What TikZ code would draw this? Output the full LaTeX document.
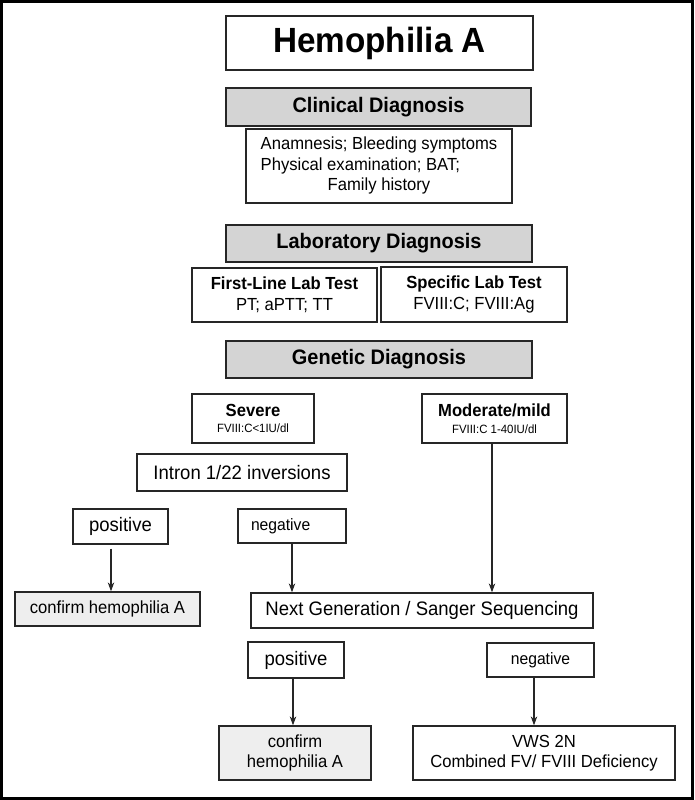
\documentclass[tikz,border=0pt]{standalone}
\usepackage{fontspec}
\setmainfont{Liberation Sans}[FakeStretch=0.95]
\usetikzlibrary{arrows.meta}

\definecolor{headgray}{RGB}{212,212,212}
\definecolor{confgray}{RGB}{238,238,238}

\begin{document}
\begin{tikzpicture}[x=1pt,y=-1pt,>={Stealth[length=9pt,width=6.5pt]},
  box/.style={draw=black!85,line width=1.3pt,fill=white,inner sep=1pt,align=center,font=\fontsize{17.5}{20.5}\selectfont},
  headbox/.style={box,fill=headgray,font=\fontsize{21}{24}\selectfont\bfseries},
  confbox/.style={box,fill=confgray},
  bigtext/.style={font=\fontsize{19.5}{22}\selectfont},
  smalltext/.style={font=\fontsize{16.5}{19}\selectfont},
  boxsize/.style 2 args={minimum width=#1,minimum height=#2},
  arrowline/.style={->,line width=1.2pt,draw=black!85}]

\useasboundingbox (0,0) rectangle (694,800);
\draw[line width=3pt] (1.5,1.5) rectangle (692.5,798.5);

% clinical part
\node[box,boxsize={307}{54},font=\fontsize{35}{40}\selectfont\bfseries] (title) at (379.5,43) {Hemophilia A};
\node[headbox,boxsize={305}{38}] (clin) at (378.5,107) {Clinical Diagnosis};
\node[box,boxsize={266}{74}] (clinfo) at (379,166) {\begin{tabular}{@{}l@{}}Anamnesis; Bleeding symptoms\\Physical examination; BAT;\\\multicolumn{1}{@{}c@{}}{Family history}\end{tabular}};

% laboratory part
\node[headbox,boxsize={306}{37}] (lab) at (379,243.5) {Laboratory Diagnosis};
\node[box,boxsize={185}{54}] (first) at (284.5,295) {\textbf{First-Line Lab Test}\\PT; aPTT; TT};
\node[box,boxsize={186}{55}] (spec) at (474,294.5) {\textbf{Specific Lab Test}\\FVIII:C; FVIII:Ag};

% genetic part
\node[headbox,boxsize={306}{37}] (gen) at (379,359.5) {Genetic Diagnosis};
\node[box,boxsize={122}{49}] (severe) at (253,418.5) {\textbf{Severe}\\[-4pt]{\fontsize{12}{14}\selectfont FVIII:C<1IU/dl}};
\node[box,boxsize={145}{49}] (moder) at (494.5,418.5) {\textbf{Moderate/mild}\\[-4pt]{\fontsize{12}{14}\selectfont FVIII:C 1-40IU/dl}};
\node[box,bigtext,boxsize={210}{37}] (intron) at (242,472.5) {Intron 1/22 inversions};
\node[box,bigtext,boxsize={95}{35}] (pos1) at (120.5,526.5) {positive};
\node[box,smalltext,text width=82,inner xsep=13,align=left,minimum height=34] (neg1) at (292,526) {negative};
\node[confbox,boxsize={185}{34}] (conf1) at (107.5,609) {confirm hemophilia A};
\node[box,bigtext,boxsize={342}{35}] (ngs) at (422,610.5) {Next Generation / Sanger Sequencing};
\node[box,bigtext,boxsize={96}{36}] (pos2) at (296,660) {positive};
\node[box,smalltext,boxsize={107}{34}] (neg2) at (540.5,660) {negative};
\node[confbox,boxsize={152}{54}] (conf2) at (295,753) {confirm\\hemophilia A};
\node[box,boxsize={262}{54}] (vws) at (544,753) {VWS 2N\\Combined FV/ FVIII Deficiency};

% arrows
\coordinate (m1) at ([xshift=-2.5pt]moder.south);
\coordinate (p2) at ([xshift=-3pt]pos2.south);
\coordinate (n2) at ([xshift=-6.5pt]neg2.south);
\draw[arrowline] ([xshift=-9.5pt,yshift=-4pt]pos1.south) -- ([xshift=3.5pt]conf1.north);
\draw[arrowline] (neg1.south) -- (neg1.south |- ngs.north);
\draw[arrowline] (m1) -- (m1 |- ngs.north);
\draw[arrowline] (p2) -- (p2 |- conf2.north);
\draw[arrowline] (n2) -- (n2 |- vws.north);

\end{tikzpicture}
\end{document}
